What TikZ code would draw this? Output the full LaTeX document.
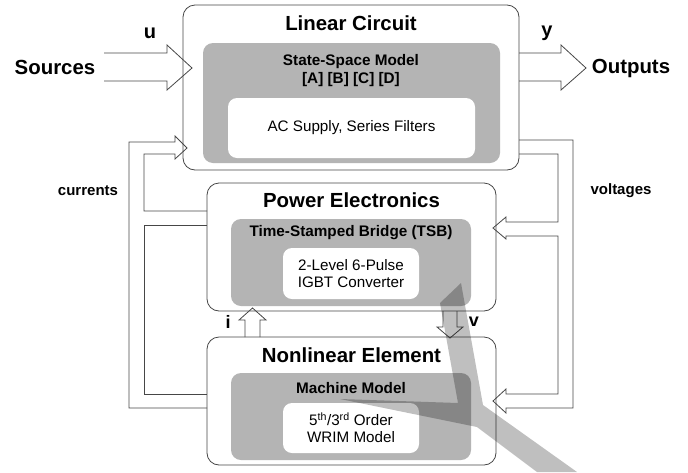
\documentclass[tikz,border=0pt]{standalone}
\usepackage{fontspec}
\setmainfont{Liberation Sans}
\definecolor{lc}{RGB}{70,70,70}
\definecolor{gfill}{RGB}{180,180,180}
\begin{document}
\begin{tikzpicture}[x=1pt,y=-1pt,
  outerbox/.style={draw=lc,line width=0.8pt,rounded corners=12pt,fill=white,inner sep=0pt},
  graybox/.style={fill=gfill,rounded corners=10pt,inner sep=0pt},
  whitebox/.style={fill=white,rounded corners=9pt,inner sep=0pt},
  bigtitle/.style={font=\fontsize{20.4}{24}\selectfont\bfseries,inner sep=0pt},
  subtitle/.style={font=\fontsize{15.3}{18}\selectfont\bfseries,align=center,inner sep=0pt},
  bodytext/.style={font=\fontsize{15.2}{17}\selectfont,align=center,inner sep=0pt},
  lbl/.style={font=\fontsize{15}{18}\selectfont\bfseries,inner sep=0pt},
  sig/.style={font=\fontsize{20}{24}\selectfont\bfseries,inner sep=0pt},
  blk/.style={draw=lc,line width=0.8pt,line join=miter}
]
\useasboundingbox (0,0) rectangle (688,472);

% Linear circuit
\node[outerbox,minimum width=336,minimum height=165] (lin) at (351,87.5) {};
\node[graybox,minimum width=297,minimum height=120] (ss) at (351.5,103) {};
\node[whitebox,minimum width=247,minimum height=60] (ac) at (351.5,128) {};
\node[bigtitle] (lint) at (351,23) {Linear Circuit};
\node[subtitle] (sst) at (351,71) {State-Space Model\\{[A] [B] [C] [D]}};
\node[bodytext] (act) at (351.5,128) {AC Supply, Series Filters};

% Power electronics
\node[outerbox,minimum width=289,minimum height=128] (pe) at (351.5,247) {};
\node[graybox,minimum width=240,minimum height=87] (tsb) at (351,262.5) {};
\node[whitebox,minimum width=136,minimum height=51] (igbt) at (351,273.5) {};
\node[bigtitle] (pet) at (351.5,200) {Power Electronics};
\node[subtitle] (tsbt) at (351,233) {Time-Stamped Bridge (TSB)};
\node[bodytext] (igbtt) at (351,273.5) {2-Level 6-Pulse\\IGBT Converter};

% Nonlinear element
\node[outerbox,minimum width=289,minimum height=128] (ne) at (351.5,401) {};
\node[graybox,minimum width=240,minimum height=87] (mm) at (351,416.5) {};
\node[whitebox,minimum width=136,minimum height=50] (wr) at (351,428) {};
\node[bigtitle] (net) at (351.5,355) {Nonlinear Element};
\node[subtitle] (mmt) at (351,388) {Machine Model};
\node[bodytext] (wrt) at (351,428) {5\textsuperscript{th}/3\textsuperscript{rd} Order\\WRIM Model};

% labels
\node[bigtitle] (src) at (55,67) {Sources};
\node[bigtitle] (out) at (631,68) {Outputs};
\node[sig] (u) at (150,33) {u};
\node[sig] (y) at (547,33) {y};
\node[sig,font=\fontsize{18}{20}\selectfont\bfseries] (i) at (228,322) {i};
\node[sig,font=\fontsize{18}{20}\selectfont\bfseries] (v) at (474,322) {v};
\node[lbl] (cur) at (88,191) {currents};
\node[lbl] (vol) at (621,191) {voltages};

% block arrows
\draw[blk] (104,53)--(167,53)--(167,45)--(192,68)--(167,90)--(167,81)--(104,81);
\draw[blk] (519,53)--(561,53)--(561,45)--(586,68)--(561,90)--(561,81)--(519,81);

% right feedback (voltages)
\draw[blk] (519,140)--(573,140)--(573,408)--(506,408)--(506,413)--(493,401)--(506,389)--(506,394)
  --(558,394)--(558,236)--(506,236)--(506,239)--(493,228)--(506,217)--(506,222)--(558,222)--(558,154)--(519,154);

% left feedback (currents)
\draw[blk] (207,211)--(144,211)--(144,154)--(175,154)--(175,159)--(187,148)--(175,136)--(175,142)
  --(129,142)--(129,408)--(207,408);
\draw[blk] (207,225)--(144,225)--(144,394)--(207,394);

% i and v arrows
\draw[blk] (245,337)--(245,320)--(239,320)--(252.5,308)--(266,320)--(260,320)--(260,337);
\draw[blk] (443,311)--(443,327)--(437,327)--(450,338)--(463,327)--(457,327)--(457,311);

% watermark shape
\fill[black,opacity=0.25] (461,283)--(483,405)--(577,472)--(537,472)--(477,427)--(340,399)--(458,403)--(440,303)--cycle;
\end{tikzpicture}
\end{document}
